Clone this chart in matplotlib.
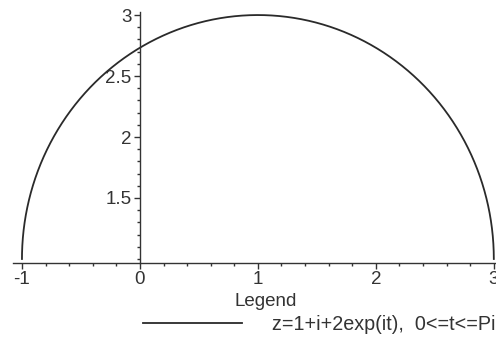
import numpy as np
import matplotlib
matplotlib.use("Agg")
import matplotlib.pyplot as plt
from matplotlib.ticker import FixedLocator, MultipleLocator

# z(t) = center + radius * exp(i t), 0 <= t <= pi
center = 1 + 1j
radius = 2
t_range = (0.0, np.pi)
curve_label = "z=1+i+2exp(it),  0<=t<=Pi"

x_major = [-1, 0, 1, 2, 3]
y_major = [1.5, 2, 2.5, 3]
y_tick_labels = ["1.5", "2", "2.5", "3"]

plt.rcParams['font.family'] = ['Liberation Sans', 'DejaVu Sans']
plt.rcParams['axes.unicode_minus'] = False

t = np.linspace(t_range[0], t_range[1], 400)
z = center + radius * np.exp(1j * t)

fig = plt.figure(figsize=(4.96, 3.4), dpi=100)
W, H = 496, 340
ax = fig.add_axes([13 / W, (H - 263) / H, (495 - 13) / W, (263 - 12) / H])

line, = ax.plot(z.real, z.imag, color='#2a2a2a', lw=1.3, label=curve_label)

ax.set_xlim(-1.076, 3.01)
ax.set_ylim(0.967, 3.025)

for s in ['top', 'right']:
    ax.spines[s].set_visible(False)
ax.spines['left'].set_position(('data', 0))
for s in ['left', 'bottom']:
    ax.spines[s].set_color('#333333')
    ax.spines[s].set_linewidth(1.0)

ax.xaxis.set_major_locator(FixedLocator(x_major))
ax.xaxis.set_minor_locator(MultipleLocator(0.2))
ax.set_xticklabels([str(v) for v in x_major])
ax.yaxis.set_major_locator(FixedLocator(y_major))
ax.yaxis.set_minor_locator(MultipleLocator(0.1))
ax.set_yticklabels(y_tick_labels)

ax.tick_params(which='major', length=4, width=1, color='#333333',
               labelsize=13.5, labelcolor='#333333', pad=2)
ax.tick_params(which='minor', length=2.5, width=1, color='#333333')

fig.text(266 / W, (H - 301) / H, "Legend", ha='center', va='center',
         fontsize=13.5, color='#333333')
fig.legend(handles=[line], loc='center left',
           bbox_to_anchor=(143 / W, (H - 324) / H),
           frameon=False, fontsize=14.2, handlelength=5.0, handletextpad=1.55,
           borderpad=0, borderaxespad=0, labelcolor='#333333')

fig.savefig("out.png", dpi=100)
